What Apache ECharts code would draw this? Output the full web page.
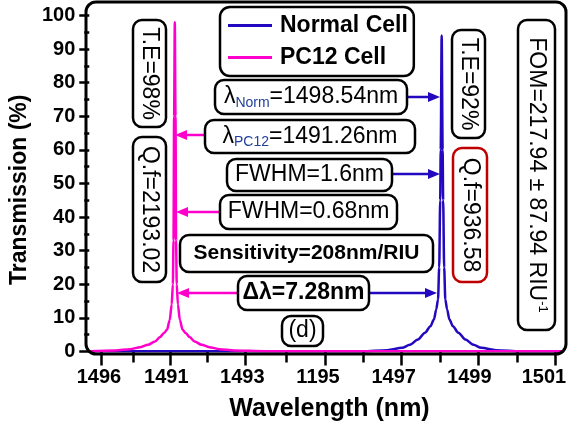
<!DOCTYPE html>
<html><head><meta charset="utf-8">
<script src="https://cdn.jsdelivr.net/npm/echarts@6/dist/echarts.min.js"></script>
<style>html,body{margin:0;padding:0;background:#fff}#c{width:569px;height:427px}</style>
</head><body><div id="c"></div>
<script>
// ---- data ----
const normalWavelength = [1488.98,1495.5,1496.02,1496.66,1497.04,1497.24,1497.45,1497.63,1497.77,1497.86,1497.92,1497.966,1497.996,1498.022,1498.035,1498.06,1498.085,1498.098,1498.124,1498.154,1498.20,1498.26,1498.35,1498.49,1498.67,1498.88,1499.08,1499.46,1500.1,1501.2];
const normalTransmission = [0.05,0.08,0.1,0.4,1.1,2.0,3.6,5.6,7.5,9.5,12.5,15.5,25,45,60,94,60,45,25,15.5,12.5,9.5,7.5,5.6,3.6,2.0,1.1,0.4,0.1,0.05];
const pc12Wavelength = [1488.98,1489.65,1490.03,1490.29,1490.49,1490.67,1490.80,1490.90,1490.98,1491.05,1491.10,1491.13,1491.147,1491.162,1491.18,1491.198,1491.213,1491.23,1491.26,1491.31,1491.38,1491.46,1491.56,1491.69,1491.87,1492.07,1492.33,1492.71,1493.5,1495.0,1501.2];
const pc12Transmission = [0.05,0.3,0.7,1.3,2.0,3.0,4.3,5.5,6.5,9.4,14,20,33,70,98,70,33,20,14,9.4,6.5,5.5,4.3,3.0,2.0,1.3,0.7,0.3,0.1,0.05,0.05];
const seriesNames = ['Normal Cell', 'PC12 Cell'];
const xTickLabels = ['1496','1491','1493','1195','1497','1499','1501'];
const xLabelValues = [1489.225,1490.962,1492.919,1494.873,1496.822,1498.771,1500.695];
const xMajorTickValues = [1489.281,1491.064,1493.0,1495.064,1497.026,1499.013,1501.0];
const xMinorTickValues = [1490.121,1492.007,1494.045,1496.032,1498.019,1500.007];
const yTickValues = [0,10,20,30,40,50,60,70,80,90,100];
const yMinorTickValues = [5,15,25,35,45,55,65,75,85,95];
const xRange = [1488.975, 1501.204];
const yRange = [0, 104];

const FONT = '"Liberation Sans", Arial, sans-serif';
const BLUE = '#2208bf', PINK = '#ff00cc', SUBC = '#22409c';

function zip(a, b) { return a.map((v, i) => [v, b[i]]); }

function box(x, y, w, h, content, o) {
  o = o || {};
  const els = [{type:'rect', z:50, shape:{x:x, y:y, width:w, height:h, r:o.r || 9},
    style:{fill:'#fff', stroke:o.stroke || '#000', lineWidth:2.5}}];
  const st = {text:content, fontSize:o.size || 23, fontWeight:o.bold ? 'bold' : 'normal',
    fontFamily:FONT, fill:'#000', align:'center', verticalAlign:'middle'};
  if (o.rich) st.rich = o.rich;
  els.push({type:'text', z:51, x:x + w / 2, y:y + h / 2, rotation:o.vertical ? -Math.PI / 2 : 0, style:st});
  return els;
}
function arrow(x1, x2, y, color) {
  const d = x2 > x1 ? 1 : -1, L = 12, W = 5;
  return [
    {type:'line', z:49, shape:{x1:x1, y1:y, x2:x2 - d * L, y2:y}, style:{stroke:color, lineWidth:2.5}},
    {type:'polygon', z:49, shape:{points:[[x2, y], [x2 - d * L, y - W], [x2 - d * L, y + W]]}, style:{fill:color}}
  ];
}
const subRich = {
  a:{fontSize:23, fontFamily:FONT, fill:'#000', lineHeight:26},
  s:{fontSize:14, fontFamily:FONT, fill:SUBC, lineHeight:8, verticalAlign:'bottom'}
};
const supRich = {
  m:{fontSize:23, fontFamily:FONT, fill:'#000', lineHeight:26},
  p:{fontSize:13, fontFamily:FONT, fill:'#000', lineHeight:14, verticalAlign:'top'}
};

const graphics = [].concat(
  [{type:'rect', z:60, shape:{x:86, y:2, width:480, height:352, r:10}, style:{fill:'none', stroke:'#000', lineWidth:3}}],
  box(133, 20, 33, 107, 'T.E=98%', {vertical:true}),
  box(133, 137, 33, 145, 'Q.f=2193.02', {vertical:true}),
  box(215, 80, 192, 34, '{a|λ}{s|Norm}{a|=1498.54nm}', {rich:subRich}),
  box(205, 120, 210, 33, '{a|λ}{s|PC12}{a|=1491.26nm}', {rich:subRich}),
  box(227, 159, 165, 32, 'FWHM=1.6nm'),
  box(220, 195, 177, 34, 'FWHM=0.68nm'),
  box(180, 235, 253, 37, 'Sensitivity=208nm/RIU', {bold:true, size:21}),
  box(238, 276, 131, 34, 'Δλ=7.28nm', {bold:true}),
  box(282, 316, 41, 30, '(d)'),
  box(452, 30, 33, 108, 'T.E=92%', {vertical:true}),
  box(453, 148, 34, 134, 'Q.f=936.58', {vertical:true, stroke:'#c00000'}),
  box(518, 20, 37, 310, '{m|FOM=217.94 ± 87.94 RIU}{p|-1}', {vertical:true, rich:supRich}),
  arrow(407, 440, 97, BLUE),
  arrow(205, 175, 135, PINK),
  arrow(392, 440, 174, BLUE),
  arrow(220, 176, 212, PINK),
  arrow(238, 177, 293, PINK),
  arrow(369, 437, 293, BLUE)
);

const labelStyle = {fontSize:20, fontWeight:'bold', color:'#000', fontFamily:FONT};
const tickLine = {color:'#000', width:2.5};

const chart = echarts.init(document.getElementById('c'), null, {renderer:'canvas'});
chart.setOption({
  animation:false,
  backgroundColor:'#fff',
  grid:{left:86, right:3, top:2, bottom:75.5, containLabel:false},
  legend:{
    orient:'vertical', left:220, top:7, padding:[7, 6, 7, 8], itemGap:9,
    itemWidth:44, itemHeight:3, icon:'rect',
    borderColor:'#000', borderWidth:2.5, borderRadius:10, backgroundColor:'#fff',
    textStyle:{fontSize:23, fontWeight:'bold', color:'#000', fontFamily:FONT, padding:[0, 0, 0, 3]},
    data:seriesNames
  },
  xAxis:[
    {type:'value', min:xRange[0], max:xRange[1], position:'bottom',
      axisLine:{show:false}, splitLine:{show:false},
      axisTick:{show:true, customValues:xMajorTickValues, length:14, lineStyle:tickLine},
      axisLabel:Object.assign({customValues:xLabelValues, margin:16, formatter:function (v) {
        let best = 0;
        xLabelValues.forEach(function (lv, i) { if (Math.abs(lv - v) < Math.abs(xLabelValues[best] - v)) best = i; });
        return xTickLabels[best];
      }}, labelStyle),
      name:'Wavelength (nm)', nameLocation:'middle', nameGap:45,
      nameTextStyle:{fontSize:25, fontWeight:'bold', color:'#000', fontFamily:FONT, padding:[0, 0, 0, 6]}},
    {type:'value', min:xRange[0], max:xRange[1], position:'bottom',
      axisLine:{show:false}, splitLine:{show:false}, axisLabel:{show:false},
      axisTick:{show:true, customValues:xMinorTickValues, length:11, lineStyle:tickLine}}
  ],
  yAxis:[
    {type:'value', min:yRange[0], max:yRange[1], position:'left',
      axisLine:{show:false}, splitLine:{show:false},
      axisTick:{show:true, customValues:yTickValues, length:10, lineStyle:tickLine},
      axisLabel:Object.assign({customValues:yTickValues, margin:14}, labelStyle),
      name:'Transmission (%)', nameLocation:'middle', nameGap:52, nameRotate:90,
      nameTextStyle:{fontSize:23, fontWeight:'bold', color:'#000', fontFamily:FONT, padding:[0, 26, 0, 0]}},
    {type:'value', min:yRange[0], max:yRange[1], position:'left',
      axisLine:{show:false}, splitLine:{show:false}, axisLabel:{show:false},
      axisTick:{show:true, customValues:yMinorTickValues, length:5, lineStyle:tickLine}}
  ],
  series:[
    {name:seriesNames[0], type:'line', xAxisIndex:0, yAxisIndex:0, symbol:'none', smooth:0.3, smoothMonotone:'x',
      data:zip(normalWavelength, normalTransmission), lineStyle:{color:BLUE, width:2.5}, itemStyle:{color:BLUE}, z:2},
    {name:seriesNames[1], type:'line', xAxisIndex:0, yAxisIndex:0, symbol:'none', smooth:0.3, smoothMonotone:'x',
      data:zip(pc12Wavelength, pc12Transmission), lineStyle:{color:PINK, width:2.5}, itemStyle:{color:PINK}, z:3}
  ],
  graphic:{elements:graphics}
});
</script>
</body></html>
